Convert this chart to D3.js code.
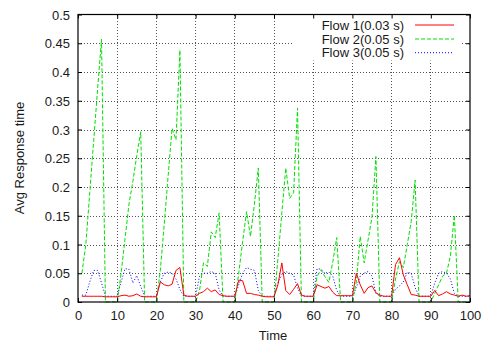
<!DOCTYPE html>
<html>
<head>
<meta charset="utf-8">
<script src="https://cdn.jsdelivr.net/npm/d3@7"></script>
<style>
  html, body { margin: 0; padding: 0; background: #fff; }
  svg { display: block; }
  text { font-family: "Liberation Sans", Arial, Helvetica, sans-serif; fill: #1a1a1a; }
</style>
</head>
<body>
<svg id="chart" width="483" height="343"></svg>
<script>
// ---------- DATA ----------
const time = [1,2,3,4,5,6,7,8,9,10,11,12,13,14,15,16,17,18,19,20,
  21,22,23,24,25,26,27,28,29,30,31,32,33,34,35,36,37,38,39,40,
  41,42,43,44,45,46,47,48,49,50,51,52,53,54,55,56,57,58,59,60,
  61,62,63,64,65,66,67,68,69,70,71,72,73,74,75,76,77,78,79,80,
  81,82,83,84,85,86,87,88,89,90,91,92,93,94,95,96,97,98,99,100];

const flow1 = [0.010,0.010,0.010,0.010,0.010,0.010,0.009,0.009,0.009,0.009,
  0.011,0.012,0.010,0.011,0.014,0.010,0.009,0.009,0.009,0.009,
  0.035,0.030,0.028,0.031,0.055,0.060,0.012,0.010,0.010,0.010,
  0.015,0.018,0.024,0.018,0.021,0.013,0.011,0.010,0.010,0.010,
  0.038,0.037,0.015,0.015,0.013,0.012,0.010,0.009,0.009,0.009,
  0.030,0.068,0.020,0.013,0.022,0.032,0.012,0.010,0.010,0.010,
  0.030,0.027,0.024,0.027,0.017,0.011,0.011,0.011,0.011,0.011,
  0.050,0.030,0.015,0.025,0.028,0.016,0.012,0.010,0.010,0.010,
  0.065,0.077,0.047,0.030,0.013,0.012,0.010,0.010,0.010,0.010,
  0.020,0.011,0.014,0.018,0.014,0.012,0.010,0.012,0.010,0.011];

const flow2 = [0.050,0.100,0.190,0.280,0.370,0.457,0,0,0,0,
  0.050,0.110,0.170,0.210,0.255,0.296,0,0,0,0,
  0.055,0.135,0.220,0.302,0.282,0.438,0,0,0,0,
  0.020,0.068,0.062,0.122,0.112,0.155,0,0,0,0,
  0.050,0.105,0.157,0.114,0.170,0.233,0,0,0,0,
  0.075,0.155,0.233,0.180,0.190,0.337,0,0,0,0,
  0.045,0.056,0.044,0.034,0.070,0.112,0,0,0,0,
  0.035,0.114,0.068,0.108,0.148,0.253,0,0,0,0,
  0.040,0.070,0.060,0.100,0.140,0.212,0,0,0,0,
  0.015,0.030,0.045,0.050,0.080,0.151,0,0,0,0];

const flow3 = [0.012,0.012,0.035,0.055,0.055,0.033,0.010,0.010,0.010,0.010,
  0.035,0.058,0.057,0.033,0.046,0.027,0.010,0.010,0.010,0.010,
  0.035,0.050,0.052,0.050,0.040,0.022,0.010,0.010,0.010,0.010,
  0.045,0.050,0.050,0.053,0.050,0.021,0.010,0.010,0.010,0.010,
  0.030,0.050,0.060,0.057,0.055,0.020,0.010,0.010,0.010,0.010,
  0.033,0.048,0.053,0.050,0.047,0.024,0.010,0.010,0.010,0.010,
  0.058,0.057,0.050,0.052,0.045,0.020,0.010,0.010,0.010,0.010,
  0.025,0.045,0.050,0.053,0.045,0.015,0.010,0.010,0.010,0.010,
  0.022,0.028,0.035,0.052,0.050,0.025,0.010,0.010,0.010,0.010,
  0.033,0.050,0.053,0.050,0.040,0.015,0.010,0.010,0.010,0.010];

const seriesNames = ["Flow 1(0.03 s)", "Flow 2(0.05 s)", "Flow 3(0.05 s)"];
const xTicks = [0,10,20,30,40,50,60,70,80,90,100];
const yTicks = [0,0.05,0.1,0.15,0.2,0.25,0.3,0.35,0.4,0.45,0.5];
const xTitle = "Time";
const yTitle = "Avg Response time";

// ---------- LAYOUT ----------
const L = 78, R = 470, T = 14.5, B = 302;
const svg = d3.select("#chart");
svg.append("rect").attr("width", 483).attr("height", 343).attr("fill", "#fff");

const x = d3.scaleLinear().domain([0, 100]).range([L, R]);
const y = d3.scaleLinear().domain([0, 0.5]).range([B, T]);

const styles = [
  { color: "#ff0000", dash: null },
  { color: "#00e000", dash: "4,2" },
  { color: "#0000ff", dash: "1,2" }
];

// grid
const grid = svg.append("g");
grid.selectAll("line.gx").data(xTicks.slice(1, -1)).join("line")
  .attr("x1", d => x(d)).attr("x2", d => x(d)).attr("y1", T).attr("y2", B)
  .attr("stroke", "#555").attr("stroke-width", 1).attr("stroke-dasharray", "1,2")
  .attr("shape-rendering", "crispEdges");
grid.selectAll("line.gy").data(yTicks.slice(1, -1)).join("line")
  .attr("y1", d => Math.round(y(d)) + 0.5).attr("y2", d => Math.round(y(d)) + 0.5).attr("x1", L).attr("x2", R)
  .attr("stroke", "#555").attr("stroke-width", 1).attr("stroke-dasharray", "1,2")
  .attr("shape-rendering", "crispEdges");

// legend opaque box (covers grid)
svg.append("rect").attr("x", 293).attr("y", T).attr("width", 168).attr("height", 46).attr("fill", "#fff");

// series
const data = [flow1, flow2, flow3];
const line = d3.line().x((d, i) => x(time[i])).y(d => y(d));
const plot = svg.append("g");
[2, 1, 0].forEach(k => {
  plot.append("path").datum(data[k])
    .attr("d", line)
    .attr("fill", "none")
    .attr("stroke", styles[k].color)
    .attr("stroke-width", 1)
    .attr("stroke-dasharray", styles[k].dash);
});

// frame
svg.append("rect").attr("x", L).attr("y", T).attr("width", R - L).attr("height", B - T)
  .attr("fill", "none").attr("stroke", "#000").attr("stroke-width", 1.2);

// axes with inward ticks (mirrored)
const tk = 4;
const axB = svg.append("g").attr("transform", `translate(0,${B})`)
  .call(d3.axisBottom(x).tickValues(xTicks).tickSize(-tk).tickPadding(9).tickFormat(d3.format("d")));
const axT = svg.append("g").attr("transform", `translate(0,${T})`)
  .call(d3.axisTop(x).tickValues(xTicks).tickSize(-tk).tickFormat(""));
const axL = svg.append("g").attr("transform", `translate(${L},0)`)
  .call(d3.axisLeft(y).tickValues(yTicks).tickSize(-tk).tickPadding(8).tickFormat(d => d3.format("")(+d.toFixed(2))));
const axR = svg.append("g").attr("transform", `translate(${R},0)`)
  .call(d3.axisRight(y).tickValues(yTicks).tickSize(-tk).tickFormat(""));
[axB, axT, axL, axR].forEach(a => {
  a.select(".domain").remove();
  a.selectAll(".tick line").attr("stroke", "#000").attr("stroke-width", 1);
  a.selectAll("text").attr("font-size", 13).attr("fill", "#1a1a1a")
    .style("font-family", '"Liberation Sans", Arial, sans-serif');
});
axB.selectAll("text").attr("dy", "0.71em");
axL.selectAll("text").attr("dy", "0.35em");

// titles
svg.append("text").attr("x", 273).attr("y", 339.5).attr("text-anchor", "middle")
  .attr("font-size", 13).text(xTitle);
svg.append("text").attr("transform", "translate(24,158) rotate(-90)").attr("text-anchor", "middle")
  .attr("font-size", 13).text(yTitle);

// legend
const legY = [25, 39, 52.7];
const leg = svg.append("g");
seriesNames.forEach((name, k) => {
  leg.append("text").attr("x", 404).attr("y", legY[k]).attr("dy", "0.35em")
    .attr("text-anchor", "end").attr("font-size", 13).text(name);
  leg.append("line").attr("x1", 415).attr("x2", 454).attr("y1", legY[k]).attr("y2", legY[k])
    .attr("stroke", styles[k].color).attr("stroke-width", 1).attr("stroke-dasharray", styles[k].dash);
});
</script>
</body>
</html>
